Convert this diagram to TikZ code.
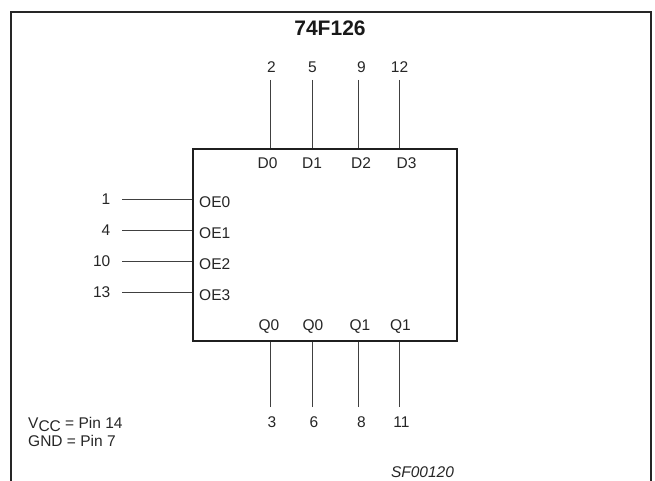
\documentclass[tikz,border=0pt]{standalone}
\usepackage{fontspec}
\setmainfont{Liberation Sans}
\tikzset{
  pin/.style={inner sep=0pt,anchor=center,font=\fontsize{15.5}{17}\selectfont,text=black!85},
  sig/.style={inner sep=0pt,anchor=center,font=\fontsize{15.5}{17}\selectfont,text=black!85},
  wire/.style={line width=1.1pt,draw=black!75},
  chipbox/.style={draw=black!88,line width=2.2pt,minimum width=264pt,minimum height=192pt,inner sep=0pt,anchor=north west},
  frame/.style={draw=black!85,line width=2pt}
}
\begin{document}
\begin{tikzpicture}[x=1pt,y=-1pt]
\useasboundingbox (0,0) rectangle (655,481);
\draw[frame] (10.5,481) -- (10.5,12) -- (650.5,12) -- (650.5,481);
\node[inner sep=0pt,font=\fontsize{21}{23}\selectfont\bfseries,text=black!90] (title) at (330,28) {74F126};
\node[chipbox] (chip) at (191.7,147.8) {};
% top pins
\foreach \n/\x/\lx/\t/\sx/\s in {a/270.5/271.5/2/267.5/D0, b/312.5/312.5/5/312/D1, c/358.5/361.5/9/361/D2, d/399.5/399.5/12/406.5/D3}{
  \node[pin] (top\n) at (\lx,67.5) {\t};
  \coordinate (topw\n) at (\x,80);
  \node[sig] (tops\n) at (\sx,162.7) {\s};
  \draw[wire] (topw\n) -- (topw\n |- chip.north);
}
% bottom pins
\foreach \n/\x/\lx/\t/\sx/\s in {a/270.5/272/3/269/Q0, b/312.5/314/6/313/Q0, c/358.5/361.5/8/360/Q1, d/399.5/401.5/11/400.5/Q1}{
  \node[pin] (bot\n) at (\lx,421.7) {\t};
  \coordinate (botw\n) at (\x,407);
  \node[sig] (bots\n) at (\sx,326.7) {\s};
  \draw[wire] (botw\n) -- (botw\n |- chip.south);
}
% left pins
\foreach \n/\y/\ly/\t/\s in {a/199.5/199.5/1/OE0, b/230.5/230/4/OE1, c/261.5/261/10/OE2, d/292.5/292/13/OE3}{
  \node[pin,anchor=east] (left\n) at (110.5,\ly) {\t};
  \coordinate (leftw\n) at (122,\y);
  \node[sig,anchor=west] (lefts\n) at (199,\y+2.5) {\s};
  \draw[wire] (leftw\n) -- (leftw\n -| chip.west);
}
\node[inner sep=0pt,anchor=north west,align=left,font=\fontsize{15.5}{18}\selectfont,text=black!85] (note) at (28,417)
  {V\raisebox{-0.35ex}{CC} = Pin 14\\GND = Pin 7};
\node[inner sep=0pt,font=\fontsize{15.5}{17}\selectfont\itshape,text=black!85] (code) at (422.5,471.7) {SF00120};
\end{tikzpicture}
\end{document}
